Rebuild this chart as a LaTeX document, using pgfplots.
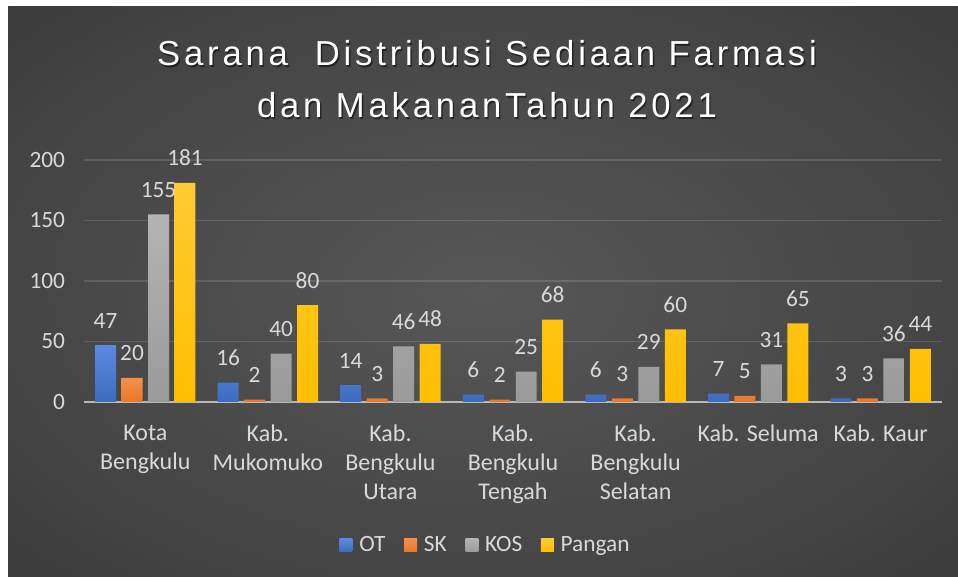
\documentclass[border=0pt]{standalone}
\usepackage{pgfplots}
\pgfplotsset{compat=1.18}
\usepackage{fontspec}
\setmainfont{Carlito}
\newfontfamily\titlefont[LetterSpace=11]{Liberation Sans}
\definecolor{bgin}{HTML}{575757}
\definecolor{bgmid}{HTML}{454545}
\definecolor{bgout}{HTML}{1E1E1E}
\definecolor{lbl}{HTML}{D9D9D9}
\definecolor{otT}{HTML}{5A8AE0}
\definecolor{otB}{HTML}{3D6BBF}
\definecolor{skT}{HTML}{F5904A}
\definecolor{skB}{HTML}{E8772A}
\definecolor{kosT}{HTML}{B4B4B4}
\definecolor{kosB}{HTML}{9A9A9A}
\definecolor{pgT}{HTML}{FFCB33}
\definecolor{pgB}{HTML}{FFBE00}
\pgfdeclareradialshading{bgshade}{\pgfpoint{0bp}{0bp}}{color(0bp)=(bgin); color(25bp)=(bgmid); color(72bp)=(bgout); color(75bp)=(bgout)}
\begin{document}
\begin{tikzpicture}
\fill[white] (0pt,0pt) rectangle (718.5pt,432.75pt);
\shade[shading=bgshade] (6pt,0pt) rectangle (718.5pt,427.5pt);
% title
\node[anchor=base, text=black, opacity=0.5, inner sep=0pt, font=\titlefont\fontsize{26}{30}\selectfont] at (366.3pt,382.2pt) {Sarana\ \ Distribusi Sediaan Farmasi};
\node[anchor=base, text=black, opacity=0.5, inner sep=0pt, font=\titlefont\fontsize{26}{30}\selectfont] at (366.3pt,343.2pt) {dan MakananTahun 2021};
\node[anchor=base, text=white, inner sep=0pt, font=\titlefont\fontsize{26}{30}\selectfont] at (365.25pt,383.25pt) {Sarana\ \ Distribusi Sediaan Farmasi};
\node[anchor=base, text=white, inner sep=0pt, font=\titlefont\fontsize{26}{30}\selectfont] at (365.25pt,344.25pt) {dan MakananTahun 2021};
\begin{axis}[
  at={(63pt,131.25pt)}, anchor=south west,
  scale only axis, width=643.5pt, height=181.5pt,
  ybar, bar width=0.171,
  xmin=-0.5, xmax=6.5, ymin=0, ymax=200,
  ytick={0,50,100,150,200},
  xtick={0,1,2,3,4,5,6},
  xticklabels={{Kota\\Bengkulu},{Kab.\\Mukomuko},{Kab.\\Bengkulu\\Utara},{Kab.\\Bengkulu\\Tengah},{Kab.\\Bengkulu\\Selatan},{Kab. Seluma},{Kab. Kaur}},
  axis x line*=bottom, axis y line*=left,
  y axis line style={draw=none},
  x axis line style={draw=lbl!85!black, line width=1.5pt},
  major tick length=0pt,
  ymajorgrids, grid style={white, opacity=0.13, line width=0.8pt},
  /pgf/number format/assume math mode=true,
  tick label style={text=lbl},
  yticklabel style={font=\fontsize{17.5}{21}\selectfont, anchor=east, inner sep=0pt, xshift=-14pt},
  xticklabel style={font=\fontsize{18}{21.75}\selectfont, anchor=north, align=center, inner sep=0pt, yshift=-17pt},
  nodes near coords,
  every node near coord/.append style={font=\fontsize{17.5}{21}\selectfont, text=lbl, anchor=base, inner sep=0pt, yshift=12.75pt},
  legend style={at={(0.4685,-0.591)}, anchor=center, draw=none, fill=none, text=lbl,
    font=\fontsize{17.5}{21}\selectfont, legend columns=-1,
    /tikz/every odd column/.append style={column sep=3pt},
    /tikz/every even column/.append style={column sep=12pt}},
  legend image code/.code={\fill[#1] (0pt,-4.9pt) rectangle (9.75pt,4.9pt);},
]
\addplot[bar shift=-0.324, draw=none, top color=otT, bottom color=otB] coordinates {(0,47)(1,16)(2,14)(3,6)(4,6)(5,7)(6,3)};
\addplot[bar shift=-0.108, draw=none, top color=skT, bottom color=skB] coordinates {(0,20)(1,2)(2,3)(3,2)(4,3)(5,5)(6,3)};
\addplot[bar shift=0.108, draw=none, top color=kosT, bottom color=kosB] coordinates {(0,155)(1,40)(2,46)(3,25)(4,29)(5,31)(6,36)};
\addplot[bar shift=0.324, draw=none, top color=pgT, bottom color=pgB] coordinates {(0,181)(1,80)(2,48)(3,68)(4,60)(5,65)(6,44)};
\legend{OT,SK,KOS,Pangan}
\end{axis}
\end{tikzpicture}
\end{document}
